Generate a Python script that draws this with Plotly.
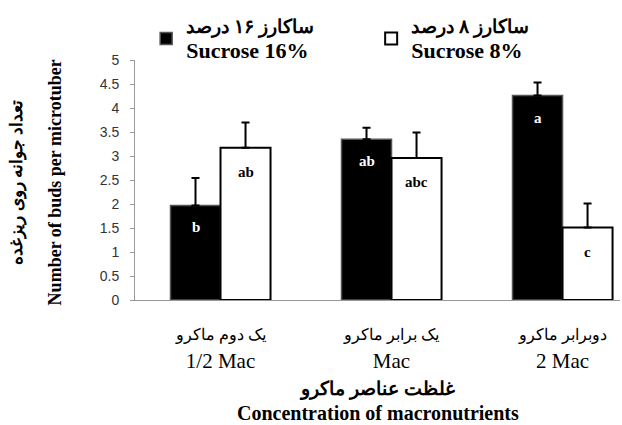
import plotly.graph_objects as go

# categories (Persian + English labels)
categories_fa = ["یک دوم ماکرو", "یک برابر ماکرو", "دوبرابر ماکرو"]
categories_en = ["1/2 Mac", "Mac", "2 Mac"]

# mean number of buds per microtuber
sucrose16 = [1.97, 3.35, 4.26]
sucrose16_err = [0.57, 0.24, 0.27]
sucrose16_letters = ["b", "ab", "a"]

sucrose8 = [3.17, 2.96, 1.51]
sucrose8_err = [0.53, 0.53, 0.50]
sucrose8_letters = ["ab", "abc", "c"]

y_ticks = [0, 0.5, 1, 1.5, 2, 2.5, 3, 3.5, 4, 4.5, 5]

SERIF = "Liberation Serif, Times New Roman, serif"
x_pos = list(range(len(categories_en)))


def legend_name(fa, en):
    return "<b>%s</b><br><span style='font-size:22px'><b>%s</b></span>" % (fa, en)


fig = go.Figure()
fig.add_trace(go.Bar(
    x=x_pos, y=sucrose16,
    name=legend_name("ساکارز ۱۶ درصد", "Sucrose 16%"),
    marker=dict(color="black", line=dict(color="#555", width=1.5)),
    error_y=dict(type="data", array=sucrose16_err, arrayminus=[0] * 3,
                 symmetric=False, color="black", thickness=2, width=4),
))
fig.add_trace(go.Bar(
    x=x_pos, y=sucrose8,
    name=legend_name("ساکارز ۸ درصد", "Sucrose 8%"),
    marker=dict(color="white", line=dict(color="black", width=2)),
    error_y=dict(type="data", array=sucrose8_err, arrayminus=[0] * 3,
                 symmetric=False, color="black", thickness=2, width=4),
))

# significance letters inside bars
for i in x_pos:
    fig.add_annotation(x=i, y=sucrose16[i], text="<b>%s</b>" % sucrose16_letters[i],
                       xshift=-25, yshift=-22, showarrow=False,
                       font=dict(family=SERIF, size=15, color="white"))
    fig.add_annotation(x=i, y=sucrose8[i], text="<b>%s</b>" % sucrose8_letters[i],
                       xshift=25, yshift=-24, showarrow=False,
                       font=dict(family=SERIF, size=15, color="black"))

# axis titles (Persian + English lines)
fig.add_annotation(xref="paper", yref="paper", x=-0.243, y=0.49, textangle=-90,
                   xanchor="center", yanchor="middle",
                   text="<b>تعداد جوانه روی ریزغده</b>", showarrow=False,
                   font=dict(family=SERIF, size=17, color="black"))
fig.add_annotation(xref="paper", yref="paper", x=-0.165, y=0.49, textangle=-90,
                   xanchor="center", yanchor="middle",
                   text="<b>Number of buds per microtuber</b>", showarrow=False,
                   font=dict(family=SERIF, size=18, color="black"))
fig.add_annotation(xref="paper", yref="paper", x=0.5, y=-0.42,
                   xanchor="center", yanchor="middle",
                   text="<b>غلظت عناصر ماکرو</b><br><span style='font-size:20px'>"
                        "<b>Concentration of macronutrients</b></span>",
                   showarrow=False, font=dict(family=SERIF, size=19, color="black"))

tick_text = ["<span style='font-size:16px'>%s</span><br>%s" % (fa, en)
             for fa, en in zip(categories_fa, categories_en)]

fig.update_layout(
    width=622, height=425,
    margin=dict(l=135, r=2, t=60, b=125, autoexpand=False),
    barmode="group", bargap=0.415, bargroupgap=0,
    plot_bgcolor="white", paper_bgcolor="white",
    font=dict(family=SERIF, color="black"),
    legend=dict(orientation="h", x=0.023, y=1.22, xanchor="left", yanchor="top",
                font=dict(family=SERIF, size=19, color="black"),
                entrywidth=180, bgcolor="rgba(0,0,0,0)"),
    xaxis=dict(
        range=[-0.5, 2.336], tickvals=x_pos, ticktext=tick_text,
        tickfont=dict(family=SERIF, size=21, color="black"),
        showline=True, linecolor="#999", linewidth=1,
        ticks="", showgrid=False, zeroline=False, ticklabelstandoff=14,
    ),
    yaxis=dict(
        range=[0, 5], tickvals=y_ticks, ticktext=[("%g" % v) for v in y_ticks],
        tickfont=dict(family="Liberation Sans, Arial, sans-serif", size=14, color="#333"),
        showline=True, linecolor="#999", linewidth=1,
        ticks="outside", ticklen=4, tickcolor="#999", ticklabelstandoff=8,
        showgrid=False, zeroline=False,
    ),
)

# drop the browser's default body margin so the figure sits at the page corner
fig.write_html("out.html", config={"displayModeBar": False},
               post_script="document.body.style.margin = '0';")
